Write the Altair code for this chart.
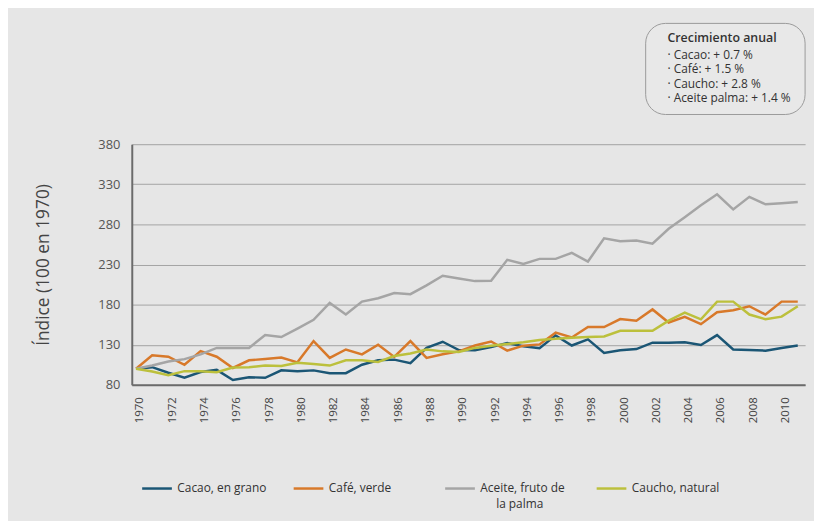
import altair as alt
import pandas as pd

years = list(range(1970, 2012))

cacao = [100, 102, 95, 89, 96, 98.6, 86, 89.5, 88.7, 98,
         97, 98, 94.5, 94.5, 105, 110.6, 111.4, 107, 126, 133.7,
         123.4, 123, 127, 132, 128, 125.5, 141.6, 129, 136.6, 119.7,
         123, 124.6, 132.5, 132.5, 133, 129.6, 142, 124, 123.4, 122.6,
         126, 129]
cafe = [100, 116.8, 115, 105, 122, 115, 101, 110.6, 112.2, 114,
        108, 134.5, 113.5, 124, 118, 130, 114.7, 134.5, 113.5, 118,
        121.7, 129, 134, 122.6, 128.8, 130.4, 145, 139, 152, 152,
        162, 159.8, 174, 157.7, 164.7, 155.6, 170.5, 173, 178, 167.6,
        183.7, 183.7]
aceite = [100, 104, 109, 112, 118, 126, 126, 126, 142, 139.5,
          150, 161, 182, 167.6, 183.7, 188, 194.5, 193, 204, 216,
          212.6, 209.3, 209.8, 235.8, 230.8, 237, 237, 244.5, 233.7, 262.6,
          259, 260, 256, 274.6, 289, 304, 317.6, 298.6, 314.3, 305,
          306.5, 308]
caucho = [100, 96.5, 92, 97, 97, 95.6, 101.5, 102, 104, 103.5,
          107.6, 106, 104, 110.6, 110.6, 108.5, 116, 119, 124, 121.7,
          121, 126, 128.8, 130.8, 133, 135.8, 137.4, 138.7, 139.5, 140.3,
          147.4, 147.4, 147.4, 160, 170, 161.6, 183.7, 183.7, 167.6, 161.8,
          165, 178]

series_names = ["Cacao, en grano", "Café, verde", "Aceite, fruto de la palma", "Caucho, natural"]
series_colors = ["#1b5675", "#d8792a", "#a5a5a5", "#bcc03c"]
series_values = [cacao, cafe, aceite, caucho]

# legend label of the third series is shown on two lines
legend_first_line = "Aceite, fruto de"
legend_second_line = "la palma"

y_ticks = [80, 130, 180, 230, 280, 330, 380]
x_ticks = list(range(1970, 2011, 2))

box_heading = "Crecimiento anual"
box_lines = ["· Cacao: + 0.7 %", "· Café: + 1.5 %", "· Caucho: + 2.8 %", "· Aceite palma: + 1.4 %"]

y_title = "Índice (100 en 1970)"

rows = []
for name, vals in zip(series_names, series_values):
    for yr, v in zip(years, vals):
        rows.append({"year": yr, "serie": name, "value": v})
df = pd.DataFrame(rows)

FONT = "Open Sans"

label_expr = ("datum.label == '" + series_names[2] + "' ? '" + legend_first_line + "' : datum.label")

lines = alt.Chart(df).mark_line(strokeWidth=2.5).encode(
    x=alt.X("year:Q",
            scale=alt.Scale(domain=[1969.736, 2011.454], nice=False, zero=False),
            axis=alt.Axis(values=x_ticks, format="d", labelAngle=270, title=None,
                          grid=False, ticks=False, labelPadding=12, labelOffset=4,
                          labelFontSize=11.5, labelColor="#444", labelFont=FONT,
                          domainColor="#6b6b6b", domainWidth=2)),
    y=alt.Y("value:Q",
            scale=alt.Scale(domain=[80, 380], nice=False, zero=False),
            axis=alt.Axis(values=y_ticks, title=y_title, grid=True, gridColor="#a3a3a3",
                          gridWidth=1, ticks=False, labelPadding=12, labelFontSize=13,
                          labelColor="#555", labelFont=FONT, domainColor="#6b6b6b",
                          domainWidth=2, titleFont=FONT, titleFontSize=17.5,
                          titleFontWeight="normal", titleColor="#444", titlePadding=46)),
    color=alt.Color("serie:N",
                    scale=alt.Scale(domain=series_names, range=series_colors),
                    legend=alt.Legend(title=None, orient="none", legendX=9, legendY=331,
                                      direction="horizontal", columns=4, gridAlign="all",
                                      columnPadding=22, symbolType="stroke",
                                      symbolSize=900, symbolStrokeWidth=2.5,
                                      labelOffset=4, labelFont=FONT, labelFontSize=12,
                                      labelColor="#333", labelLimit=250,
                                      labelExpr=label_expr)),
    order=alt.Order("year:Q"),
)

one = pd.DataFrame({"k": [0]})

legend_extra = alt.Chart(one).mark_text(align="left", baseline="middle", font=FONT,
                                        fontSize=12, color="#333").encode(
    x=alt.value(368), y=alt.value(363), text=alt.value(legend_second_line))

box = alt.Chart(one).mark_rect(cornerRadius=20, fill="#e8e8e8", stroke="#9a9a9a",
                               strokeWidth=1).encode(
    x=alt.value(519), x2=alt.value(680), y=alt.value(-122), y2=alt.value(-30))

heading = alt.Chart(one).mark_text(align="left", baseline="middle", font=FONT,
                                   fontSize=12.5, fontWeight=600, color="#333").encode(
    x=alt.value(541), y=alt.value(-107), text=alt.value(box_heading))

bullets = alt.Chart(one).mark_text(align="left", baseline="top", font=FONT,
                                   fontSize=12, lineHeight=14.7, color="#333").encode(
    x=alt.value(541), y=alt.value(-95.5), text=alt.value(box_lines))

chart = alt.layer(lines, legend_extra, box, heading, bullets).properties(
    width=680, height=243,
    padding={"left": 125, "top": 135, "right": 9, "bottom": 135},
    autosize=alt.AutoSizeParams(type="none"),
    background="#e6e6e6",
).configure_view(strokeWidth=0)

chart.save("out.html", embed_options={"renderer": "svg", "actions": False})
